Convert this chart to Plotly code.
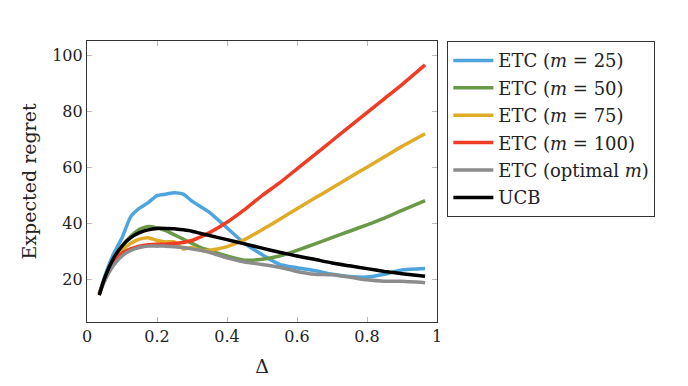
import plotly.graph_objects as go

delta = [0.035, 0.05, 0.075, 0.1, 0.125, 0.15, 0.175, 0.2, 0.225, 0.25, 0.275, 0.3, 0.325,
         0.35, 0.4, 0.45, 0.5, 0.55, 0.6, 0.65, 0.7, 0.75, 0.8, 0.85, 0.9, 0.966]

etc_25 = [15, 21, 29, 35, 42.5, 45.5, 47.5, 50, 50.5, 51, 50.5, 48, 46, 44, 38.5, 33, 29,
          25.5, 24.3, 23.3, 22, 21.2, 21, 22, 23.5, 24]
etc_50 = [15, 20, 27, 32, 35.5, 38, 39, 38.5, 37.5, 36, 34.5, 33, 31.5, 30.5, 28.5, 27,
          27.3, 28.5, 30.5, 32.7, 35, 37.3, 39.6, 42, 44.7, 48.2]
etc_75 = [15, 20, 26, 30.5, 33, 34.5, 35, 34, 33.5, 33.5, 31, 31.5, 30.5, 30.5, 31.8, 34.3,
          37.8, 41.5, 45.3, 49, 52.7, 56.4, 60.1, 63.8, 67.5, 72]
etc_100 = [15, 20, 26, 29.5, 31, 32, 32.5, 32.7, 32.7, 33, 33.3, 34, 35.3, 36.8, 40.5, 45,
           50, 54.5, 59.5, 64.5, 69.5, 74.5, 79.5, 84.5, 89.5, 96.5]
etc_opt = [15, 19.5, 25, 28.5, 30.5, 31.5, 32, 32, 32, 31.8, 31.5, 31, 30.5, 29.8, 27.8,
           26.3, 25.5, 24.5, 23, 22, 21.8, 21, 20, 19.5, 19.5, 19]
ucb = [14.5, 20.5, 27.5, 32, 35, 36.8, 37.8, 38.3, 38.3, 38.2, 37.8, 37.3, 36.5, 35.8, 34.3,
       32.8, 31.3, 29.8, 28.5, 27.3, 26, 25, 24, 23, 22.2, 21.3]

names = ["ETC (<i>m</i> = 25)", "ETC (<i>m</i> = 50)", "ETC (<i>m</i> = 75)",
         "ETC (<i>m</i> = 100)", "ETC (optimal <i>m</i>)", "UCB"]
series = [etc_25, etc_50, etc_75, etc_100, etc_opt, ucb]
colors = ["#4ea4dc", "#6a9a48", "#e0ab25", "#ee3d24", "#8c8c8c", "#000000"]

x_ticks = [0, 0.2, 0.4, 0.6, 0.8, 1]
x_tick_labels = ["0", "0.2", "0.4", "0.6", "0.8", "1"]
y_ticks = [20, 40, 60, 80, 100]

FONT = "DejaVu Serif"

fig = go.Figure()
for i, (nm, ys, c) in enumerate(zip(names, series, colors)):
    fig.add_trace(go.Scatter(
        x=delta, y=ys, mode="lines", name=nm, legendgroup=str(i),
        line=dict(color=c, width=3.5, shape="spline", smoothing=0.5),
    ))

axis_common = dict(
    showline=True, linecolor="#333333", linewidth=1.2, mirror="ticks",
    ticks="inside", ticklen=5, tickcolor="#bbbbbb", tickwidth=1,
    showgrid=False, zeroline=False,
    tickfont=dict(family=FONT, size=16, color="#222222"),
)

fig.update_layout(
    width=688, height=386,
    margin=dict(l=87, r=251, t=41, b=58),
    paper_bgcolor="white", plot_bgcolor="white",
    font=dict(family=FONT, size=16, color="#222222"),
    showlegend=True,
    legend=dict(
        x=1.029, y=1.0, xanchor="left", yanchor="top",
        bordercolor="#333333", borderwidth=1.2,
        font=dict(family=FONT, size=18, color="#222222"),
        itemwidth=40, tracegroupgap=1,
        bgcolor="white",
    ),
    xaxis=dict(range=[0, 1], tickvals=x_ticks, ticktext=x_tick_labels,
               title=dict(text="Δ", font=dict(family=FONT, size=19), standoff=14),
               **axis_common),
    yaxis=dict(range=[5, 105], tickvals=y_ticks,
               title=dict(text="Expected regret", font=dict(family=FONT, size=19), standoff=10),
               **axis_common),
)

fig.write_html("out.html", config={"displayModeBar": False},
               post_script="document.body.style.margin='0';")
